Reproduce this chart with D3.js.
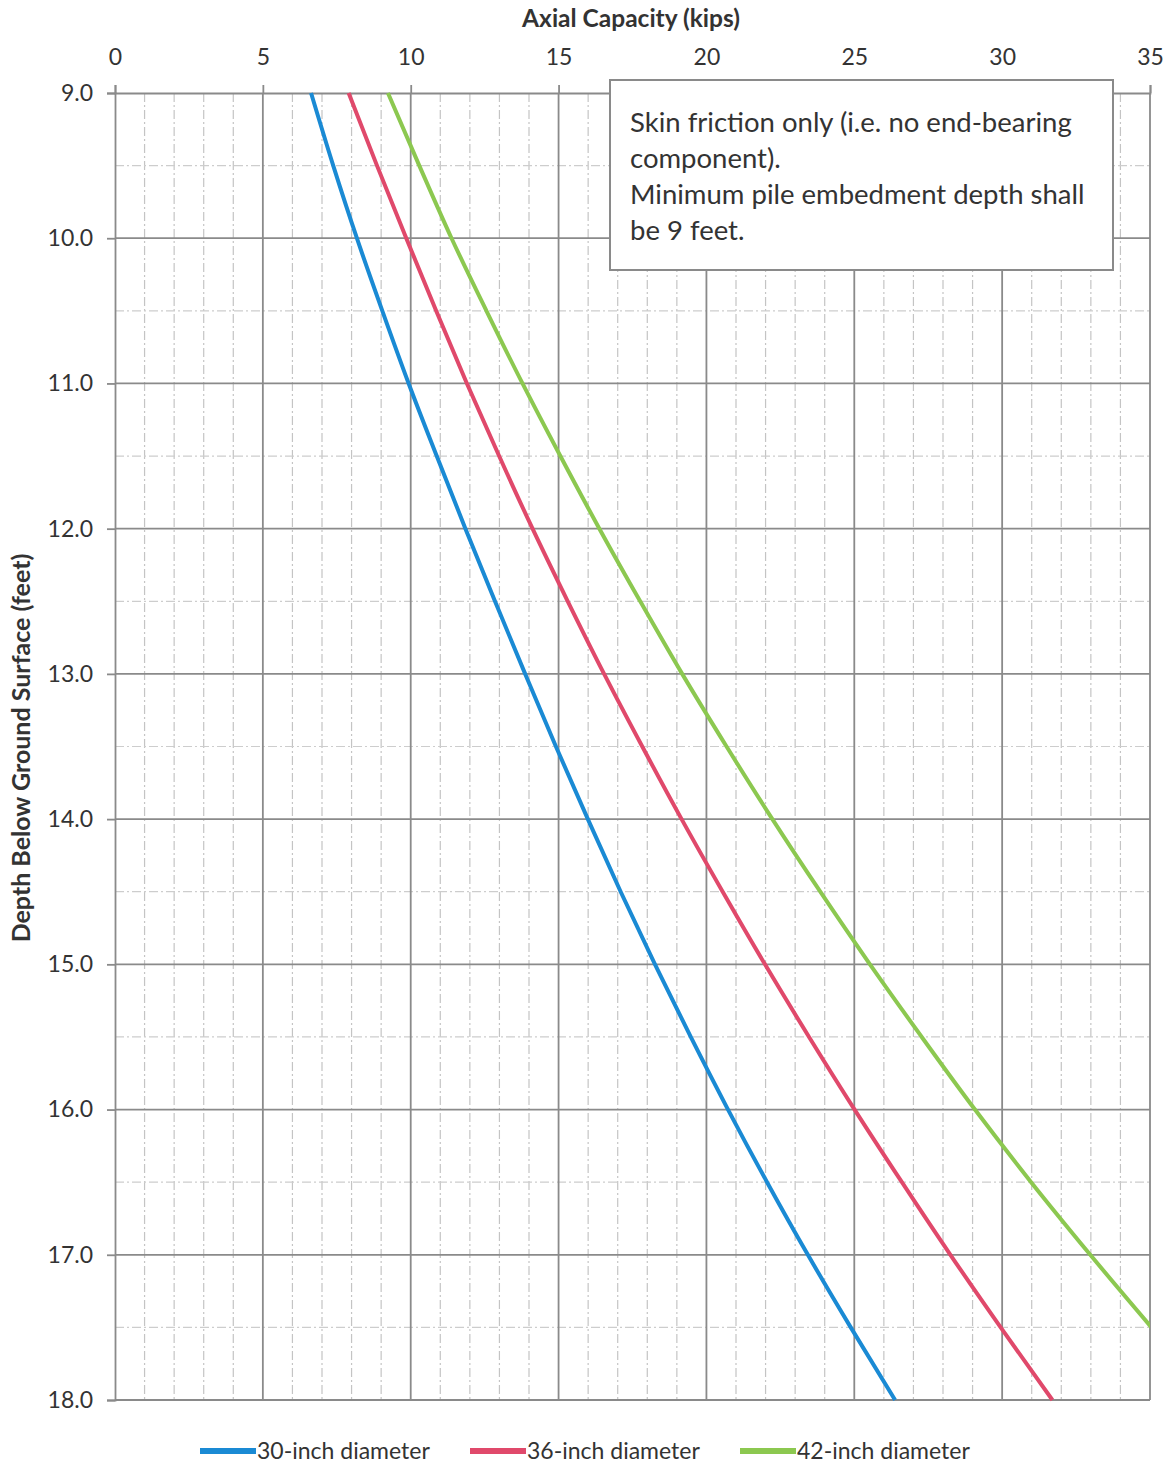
<!DOCTYPE html>
<html>
<head>
<meta charset="utf-8">
<script src="https://cdn.jsdelivr.net/npm/d3@7"></script>
<style>
  body { margin: 0; background: #fff; }
  text { font-family: Lato, "Open Sans", sans-serif; fill: #333; }
</style>
</head>
<body>
<svg id="chart"></svg>
<script>
const width = 1170, height = 1464;
const margin = { top: 93, bottom: 64, left: 115, right: 20 };

// depth below ground surface (feet)
const depths = [9.0, 9.5, 10.0, 10.5, 11.0, 11.5, 12.0, 12.5, 13.0, 13.5,
                14.0, 14.5, 15.0, 15.5, 16.0, 16.5, 17.0, 17.5, 18.0];

// axial capacity (kips) per pile diameter
const cap30 = [6.63, 7.38, 8.18, 9.04, 9.93, 10.88, 11.85, 12.85, 13.87, 14.91,
               15.99, 17.10, 18.26, 19.47, 20.73, 22.05, 23.43, 24.88, 26.38];
const cap36 = [7.9, 8.86, 9.85, 10.86, 11.9, 12.99, 14.12, 15.31, 16.54, 17.83,
               19.16, 20.55, 21.98, 23.47, 25.01, 26.61, 28.25, 29.95, 31.7];
const cap42 = [9.23, 10.29, 11.38, 12.56, 13.78, 15.06, 16.38, 17.76, 19.18, 20.68,
               22.23, 23.85, 25.53, 27.28, 29.08, 30.98, 32.98, 35.05];

const seriesNames = ["30-inch diameter", "36-inch diameter", "42-inch diameter"];
const seriesColors = ["#1a8ad4", "#e0496b", "#8cc850"];

const xTicks = [0, 5, 10, 15, 20, 25, 30, 35];
const yTicks = [9, 10, 11, 12, 13, 14, 15, 16, 17, 18];

const note = ["Skin friction only (i.e. no end-bearing",
              "component).",
              "Minimum pile embedment depth shall",
              "be 9 feet."];

const svg = d3.select("#chart")
    .attr("width", width)
    .attr("height", height);

const plotBottom = 1400, plotRight = 1150;

const xScale = d3.scaleLinear()
    .domain([0, 35])
    .range([margin.left, plotRight]);

const yScale = d3.scaleLinear()
    .domain([9, 18])
    .range([margin.top, plotBottom]);

// Minor grid (1 kip, 0.5 ft)
const grid = svg.append("g");
grid.selectAll(".vminor")
    .data(d3.range(1, 35).filter(d => d % 5 !== 0))
    .enter().append("line")
    .attr("x1", d => xScale(d)).attr("x2", d => xScale(d))
    .attr("y1", margin.top).attr("y2", plotBottom)
    .attr("stroke", "#c4c4c4")
    .attr("stroke-width", 1.2)
    .attr("stroke-dasharray", "9,3,2,3");

grid.selectAll(".hminor")
    .data(d3.range(9.5, 18, 1))
    .enter().append("line")
    .attr("x1", margin.left).attr("x2", plotRight)
    .attr("y1", d => yScale(d)).attr("y2", d => yScale(d))
    .attr("stroke", "#cdcdcd")
    .attr("stroke-width", 1.2)
    .attr("stroke-dasharray", "9,3,2,3");

// Major grid
grid.selectAll(".vmajor")
    .data(xTicks.slice(1))
    .enter().append("line")
    .attr("x1", d => xScale(d)).attr("x2", d => xScale(d))
    .attr("y1", margin.top).attr("y2", plotBottom)
    .attr("stroke", "#8a8a8a")
    .attr("stroke-width", 1.8);

grid.selectAll(".hmajor")
    .data(yTicks.slice(1))
    .enter().append("line")
    .attr("x1", margin.left).attr("x2", plotRight)
    .attr("y1", d => yScale(d)).attr("y2", d => yScale(d))
    .attr("stroke", "#8a8a8a")
    .attr("stroke-width", 1.8);

// Axes
const xAxis = svg.append("g")
    .attr("transform", `translate(0, ${margin.top})`)
    .call(d3.axisTop(xScale).tickValues(xTicks).tickSize(8).tickPadding(20).tickFormat(d3.format("d")));

const yAxis = svg.append("g")
    .attr("transform", `translate(${margin.left}, 0)`)
    .call(d3.axisLeft(yScale).tickValues(yTicks).tickSize(8).tickPadding(14).tickFormat(d3.format(".1f")));

[xAxis, yAxis].forEach(a => {
    a.select(".domain").attr("stroke", "#8a8a8a").attr("stroke-width", 1.8);
    a.selectAll(".tick line").attr("stroke", "#8a8a8a").attr("stroke-width", 1.8);
    a.selectAll(".tick text")
        .style("font-family", "Lato, 'Open Sans', sans-serif")
        .style("font-size", "23px")
        .attr("fill", "#333");
});

// Curves
const series = [cap30, cap36, cap42];
const line = d3.line()
    .x(d => xScale(d[0]))
    .y(d => yScale(d[1]))
    .curve(d3.curveMonotoneY);

svg.append("clipPath").attr("id", "plotclip")
    .append("rect")
    .attr("x", margin.left).attr("y", margin.top - 2)
    .attr("width", plotRight - margin.left).attr("height", plotBottom - margin.top + 4);

svg.append("g").attr("clip-path", "url(#plotclip)")
    .selectAll("path")
    .data(series)
    .enter().append("path")
    .attr("d", (s) => line(s.map((v, i) => [v, depths[i]])))
    .attr("fill", "none")
    .attr("stroke", (s, i) => seriesColors[i])
    .attr("stroke-width", 4);

// Note box
const box = svg.append("g");
box.append("rect")
    .attr("x", 610).attr("y", 80)
    .attr("width", 503).attr("height", 190)
    .attr("fill", "#fff")
    .attr("stroke", "#8a8a8a")
    .attr("stroke-width", 2);

box.selectAll("text")
    .data(note)
    .enter().append("text")
    .attr("x", 630)
    .attr("y", (d, i) => 132 + i * 36)
    .text(d => d)
    .style("font-size", "27.5px");

// Axis titles
svg.append("text")
    .attr("x", 631)
    .attr("y", 27)
    .attr("text-anchor", "middle")
    .style("font-size", "24.5px")
    .style("font-weight", "bold")
    .text("Axial Capacity (kips)");

svg.append("text")
    .attr("transform", `translate(30, ${748}) rotate(-90)`)
    .attr("text-anchor", "middle")
    .style("font-size", "25px")
    .style("font-weight", "bold")
    .text("Depth Below Ground Surface (feet)");

// Legend
const legendX = [200, 470, 740];
const legend = svg.selectAll(".legend")
    .data(seriesNames)
    .enter().append("g")
    .attr("class", "legend")
    .attr("transform", (d, i) => `translate(${legendX[i]}, 1451)`);

legend.append("line")
    .attr("x1", 0).attr("x2", 56)
    .attr("y1", 0).attr("y2", 0)
    .attr("stroke", (d, i) => seriesColors[i])
    .attr("stroke-width", 6);

legend.append("text")
    .attr("x", 57)
    .attr("y", 8)
    .text(d => d)
    .style("font-size", "23px");
</script>
</body>
</html>
